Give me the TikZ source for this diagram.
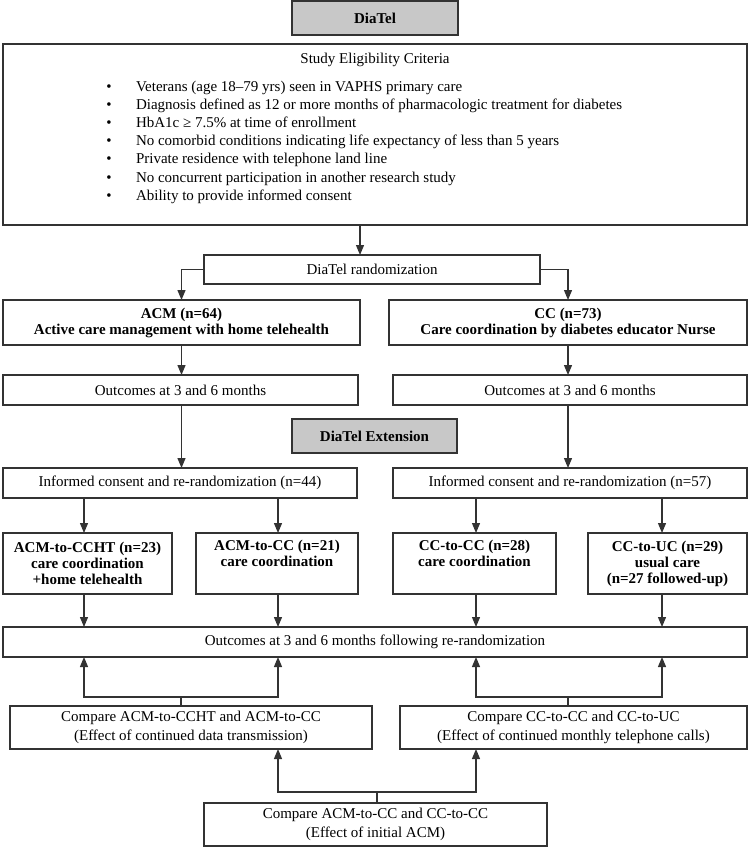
\documentclass[tikz,border=0pt]{standalone}
\usepackage{fontspec}
\setmainfont{Liberation Serif}
\usetikzlibrary{arrows.meta}
\definecolor{linec}{HTML}{333333}
\definecolor{grayfill}{HTML}{C8C8C8}
\newcommand{\fsbody}{\fontsize{15}{18.2}\selectfont}
\newcommand{\fsbold}{\fontsize{15}{16}\selectfont\bfseries}
\newcommand{\fscmp}{\fontsize{15}{19}\selectfont}
\begin{document}
\begin{tikzpicture}[x=1pt,y=-1pt,
  every node/.style={inner sep=0pt, outer sep=0pt},
  box/.style={draw=linec, line width=1.2pt, fill=white, align=center, font=\fsbody},
  bbox/.style={box, font=\fsbold},
  cbox/.style={box, font=\fscmp},
  gbox/.style={draw=linec, line width=1.5pt, fill=grayfill, align=center, font=\fsbold},
  txt/.style={font=\fsbody, text height=10pt, text depth=0pt},
  ln/.style={draw=linec, line width=1.2pt},
  arr/.style={ln, -{Triangle[length=10pt,width=8pt]}}]
\useasboundingbox (0,0) rectangle (750,847);

% column coordinates
\coordinate (c1) at (84,0);
\coordinate (c2) at (278,0);
\coordinate (c3) at (476,0);
\coordinate (c4) at (662,0);
\coordinate (cm) at (360,0);

% top
\node[gbox, minimum width=166, minimum height=34] (diatel) at (375,18) {DiaTel};
\node[box, minimum width=744, minimum height=181] (elig) at (375,134.5) {};
\node[txt] (eligt) at (375,58) {Study Eligibility Criteria};
\foreach \i/\t in {1/{Veterans (age 18–79 yrs) seen in VAPHS primary care},
  2/{Diagnosis defined as 12 or more months of pharmacologic treatment for diabetes},
  3/{HbA1c ≥ 7.5\% at time of enrollment},
  4/{No comorbid conditions indicating life expectancy of less than 5 years},
  5/{Private residence with telephone land line},
  6/{No concurrent participation in another research study},
  7/{Ability to provide informed consent}}{
  \node[txt] (bul\i) at (109,{86+18.2*(\i-1)}) {•};
  \node[txt, anchor=west] (crit\i) at (136,{86+18.2*(\i-1)}) {\t};
}

\node[box, minimum width=336, minimum height=29] (rand) at (372,269.5) {DiaTel randomization};
\node[bbox, minimum width=357, minimum height=45] (acm) at (181.5,322.5) {ACM (n=64)\\Active care management with home telehealth};
\node[bbox, minimum width=358, minimum height=45] (cc) at (568,322.5) {CC (n=73)\\Care coordination by diabetes educator Nurse};
\node[box, minimum width=355, minimum height=30] (outL) at (180.5,390) {Outcomes at 3 and 6 months};
\node[box, minimum width=354, minimum height=30] (outR) at (570,390) {Outcomes at 3 and 6 months};
\node[gbox, minimum width=165, minimum height=34] (ext) at (374.5,436) {DiaTel Extension};
\node[box, minimum width=354, minimum height=30] (infL) at (180,483) {Informed consent and re-randomization (n=44)};
\node[box, minimum width=354, minimum height=30] (infR) at (570,483) {Informed consent and re-randomization (n=57)};

\node[bbox, minimum width=169, minimum height=61] (s1) at (87.5,563.5) {ACM-to-CCHT (n=23)\\care coordination\\+home telehealth};
\node[bbox, minimum width=162, minimum height=61] (s2) at (277,563.5) {ACM-to-CC (n=21)\\care coordination\\\strut};
\node[bbox, minimum width=163, minimum height=61] (s3) at (474.5,563.5) {CC-to-CC (n=28)\\care coordination\\\strut};
\node[bbox, minimum width=159, minimum height=61] (s4) at (667.5,563.5) {CC-to-UC (n=29)\\usual care\\(n=27 followed-up)};

\node[box, minimum width=744, minimum height=30] (outAll) at (375,642) {Outcomes at 3 and 6 months following re-randomization};
\node[cbox, minimum width=362, minimum height=43] (cmpL) at (191,727.5) {Compare ACM-to-CCHT and ACM-to-CC\\(Effect of continued data transmission)};
\node[cbox, minimum width=347, minimum height=43] (cmpR) at (573.5,727.5) {Compare CC-to-CC and CC-to-UC\\(Effect of continued monthly telephone calls)};
\node[cbox, minimum width=343, minimum height=43] (bot) at (375.5,824.5) {Compare ACM-to-CC and CC-to-CC\\(Effect of initial ACM)};

% connectors
\draw[arr] (elig.south -| cm) -- (rand.north -| cm);
\draw[arr] (rand.west) -| (acm.north);
\draw[arr] (rand.east) -| (cc.north);
\draw[arr] (acm.south) -- (acm.south |- outL.north);
\draw[arr] (cc.south) -- (cc.south |- outR.north);
\draw[arr] (acm.south |- outL.south) -- (acm.south |- infL.north);
\draw[arr] (cc.south |- outR.south) -- (cc.south |- infR.north);

\draw[arr] (infL.south -| c1) -- (s1.north -| c1);
\draw[arr] (infL.south -| c2) -- (s2.north -| c2);
\draw[arr] (infR.south -| c3) -- (s3.north -| c3);
\draw[arr] (infR.south -| c4) -- (s4.north -| c4);

\draw[arr] (s1.south -| c1) -- (outAll.north -| c1);
\draw[arr] (s2.south -| c2) -- (outAll.north -| c2);
\draw[arr] (s3.south -| c3) -- (outAll.north -| c3);
\draw[arr] (s4.south -| c4) -- (outAll.north -| c4);

\coordinate (hL) at (181,697);
\coordinate (hR) at (568,697);
\coordinate (hB) at (377,792);
\draw[ln] (cmpL.north -| hL) -- (hL);
\draw[arr] (hL) -| (outAll.south -| c1);
\draw[arr] (hL) -| (outAll.south -| c2);
\draw[ln] (cmpR.north -| hR) -- (hR);
\draw[arr] (hR) -| (outAll.south -| c3);
\draw[arr] (hR) -| (outAll.south -| c4);
\draw[ln] (bot.north -| hB) -- (hB);
\draw[arr] (hB) -| (cmpL.south -| c2);
\draw[arr] (hB) -| (cmpR.south -| c3);
\end{tikzpicture}
\end{document}
